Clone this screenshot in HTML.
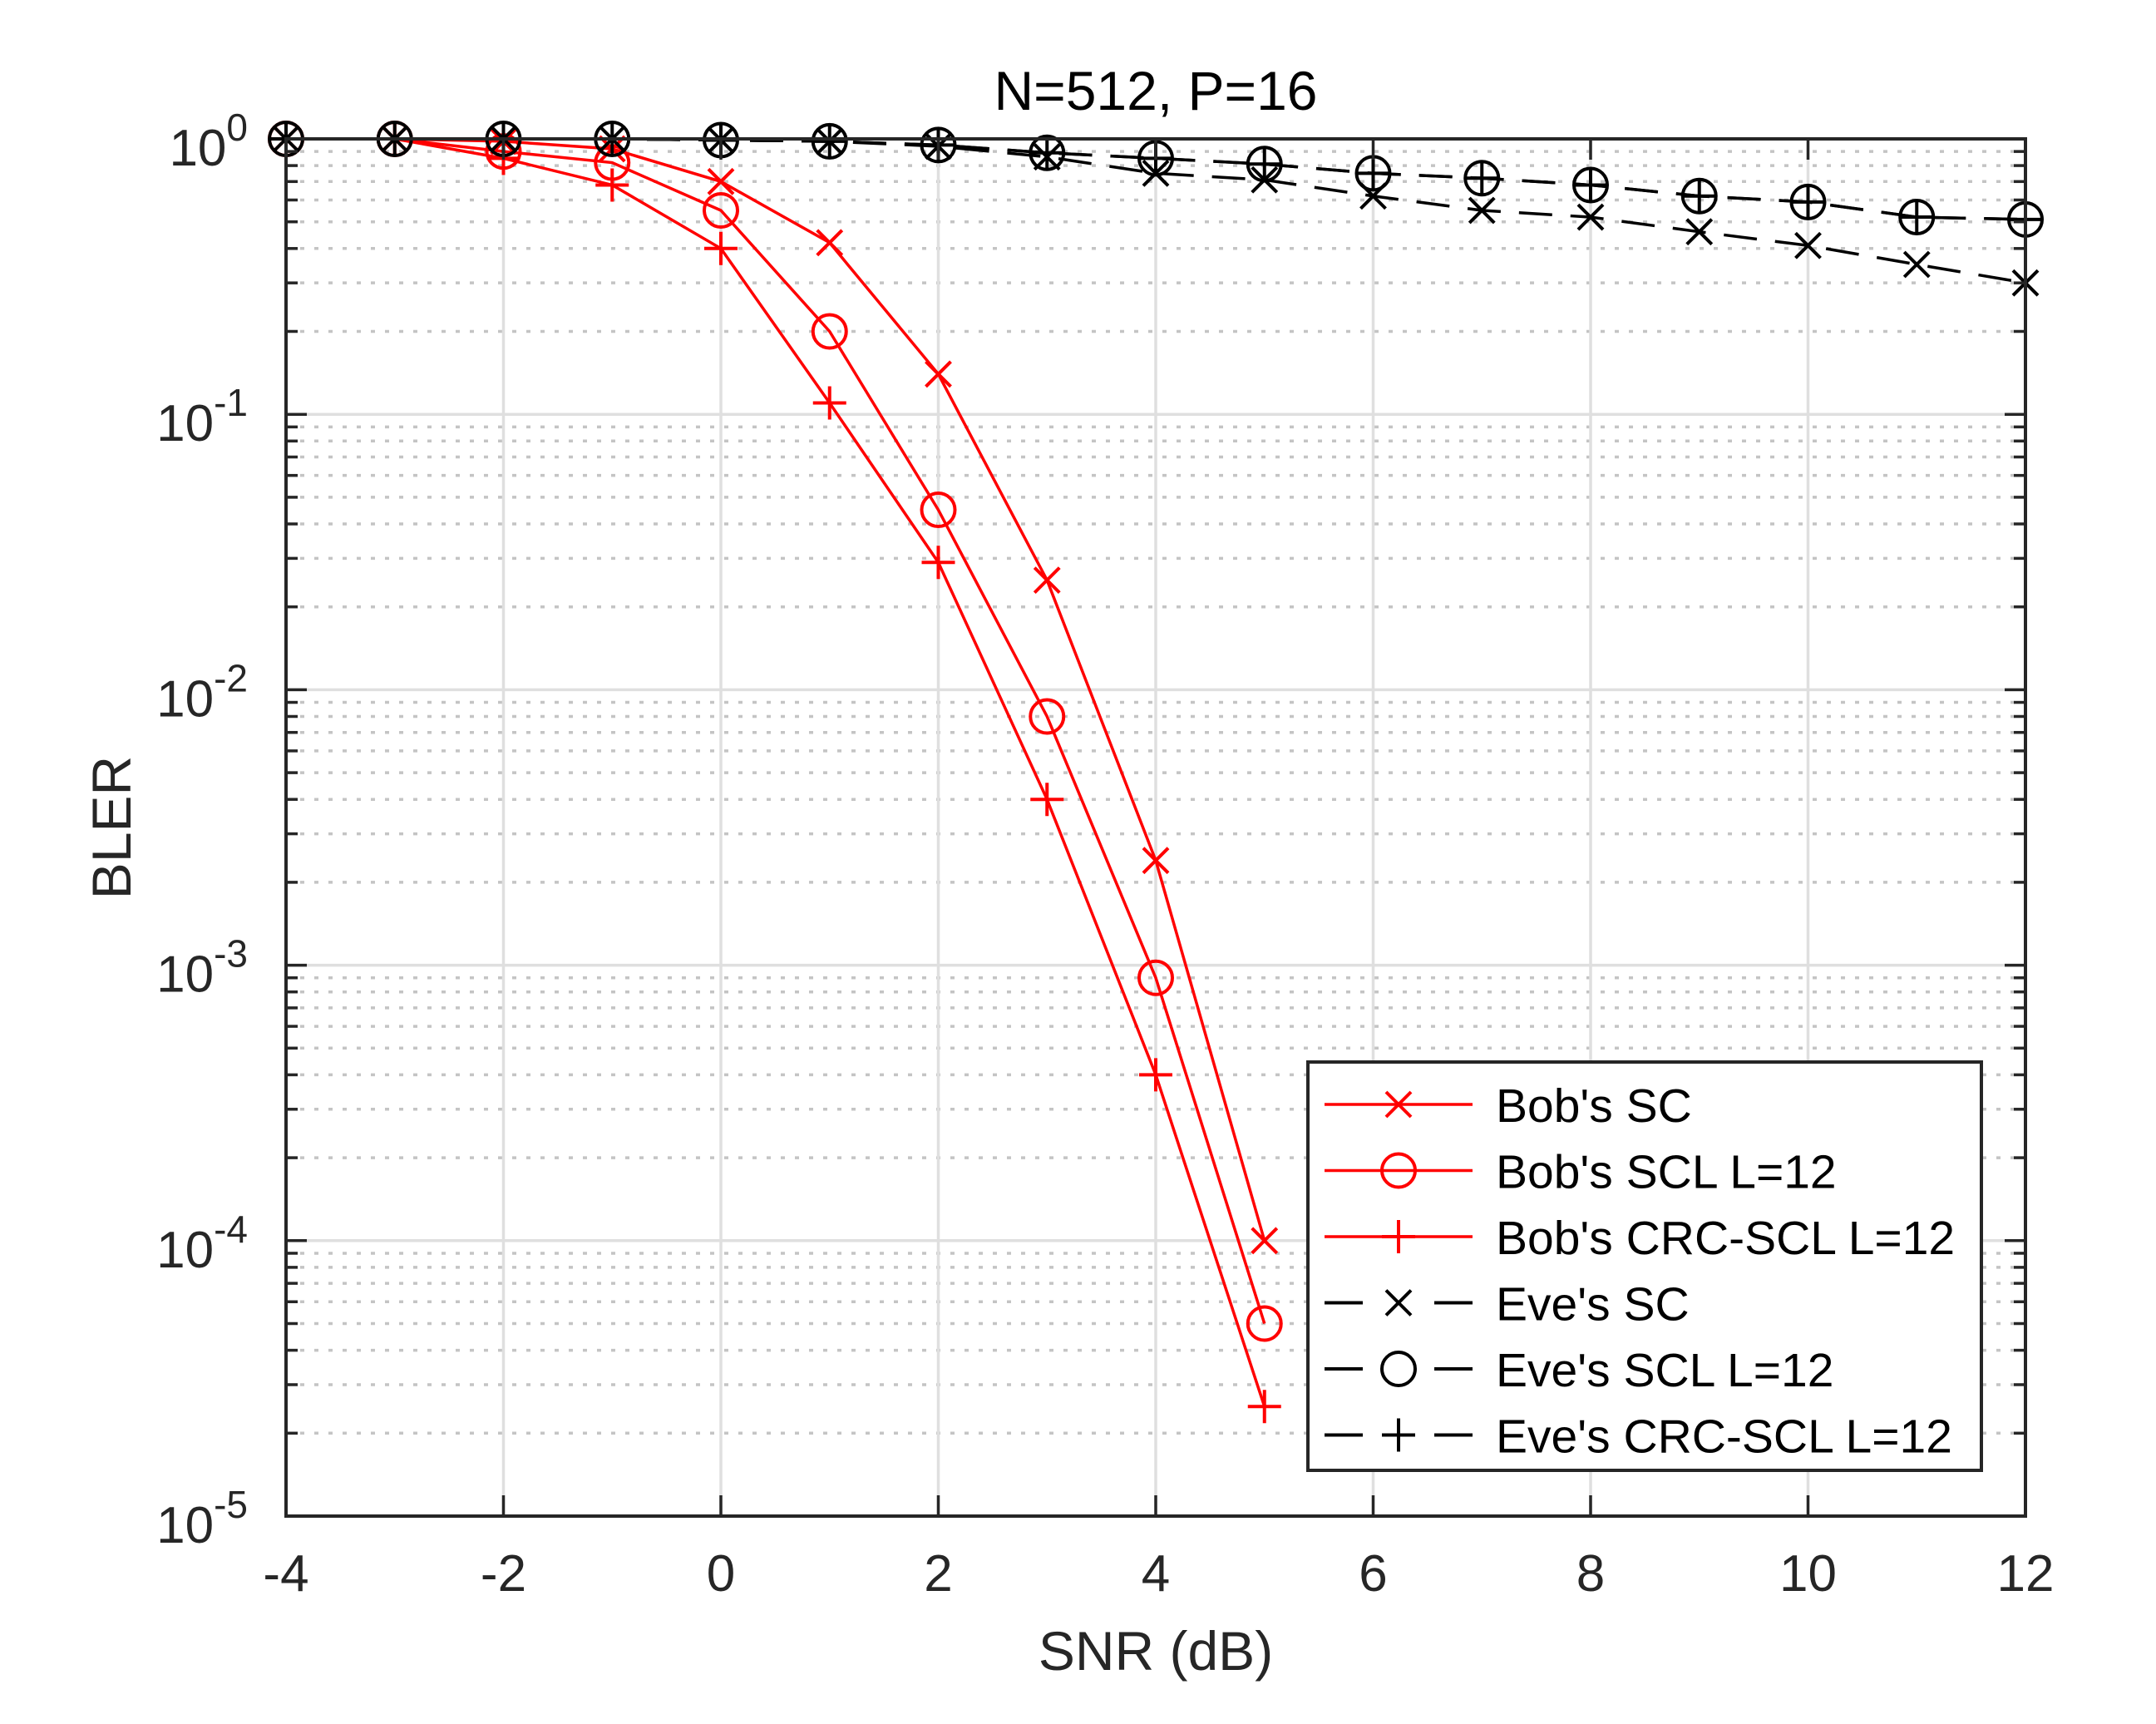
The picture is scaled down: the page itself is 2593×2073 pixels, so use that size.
<!DOCTYPE html>
<html><head><meta charset="utf-8"><style>
html,body{margin:0;padding:0;background:#fff;}
svg{display:block;font-family:"Liberation Sans",sans-serif;}
</style></head><body>
<svg id="chart" width="2593" height="2073" viewBox="0 0 2593 2073" xmlns="http://www.w3.org/2000/svg">
<rect width="2593" height="2073" fill="#fff"/>
<g id="grid"></g>
<g id="series"></g>
<g id="axes"></g>
<text x="1390" y="132" font-size="66" text-anchor="middle" fill="#000">N=512, P=16</text>
<text x="1390" y="2008" font-size="66" text-anchor="middle" fill="#262626">SNR (dB)</text>
<text transform="translate(157,995) rotate(-90)" font-size="66" text-anchor="middle" fill="#262626">BLER</text>
<g id="legend"></g>
</svg>
<script>
const bobSnr = [-4,-3,-2,-1,0,1,2,3,4,5];
const eveSnr = [-4,-3,-2,-1,0,1,2,3,4,5,6,7,8,9,10,11,12];
const bobSC = [1,1,0.98,0.92,0.7,0.42,0.14,0.025,0.0024,0.0001];
const bobSCL = [1,1,0.9,0.82,0.55,0.2,0.045,0.008,0.0009,0.00005];
const bobCRC = [1,1,0.85,0.68,0.4,0.11,0.029,0.004,0.0004,0.000025];
const eveSC = [1,1,1,1,0.99,0.98,0.94,0.86,0.75,0.71,0.62,0.55,0.52,0.46,0.41,0.35,0.30];
const eveSCL = [1,1,1,1,0.99,0.98,0.95,0.89,0.85,0.81,0.75,0.72,0.68,0.62,0.59,0.52,0.51];
const eveCRC = [1,1,1,1,0.99,0.98,0.95,0.89,0.85,0.81,0.75,0.72,0.68,0.62,0.59,0.52,0.51];
const xTicks = [-4,-2,0,2,4,6,8,10,12];
const yExps = [0,-1,-2,-3,-4,-5];

const L=344,R=2436,T=167,B=1823;
const xMin=-4,xMax=12,yMin=-5,yMax=0;
const NS="http://www.w3.org/2000/svg";
function X(v){return L+(v-xMin)/(xMax-xMin)*(R-L);}
function Y(v){return T+(yMax-Math.log10(v))/(yMax-yMin)*(B-T);}
function mk(tag,attrs,parent){const e=document.createElementNS(NS,tag);for(const k in attrs)e.setAttribute(k,attrs[k]);parent.appendChild(e);return e;}
const grid=document.getElementById('grid'),axes=document.getElementById('axes'),ser=document.getElementById('series'),leg=document.getElementById('legend');

for(let e=-5;e<0;e++){for(let m=2;m<=9;m++){const y=Y(m*Math.pow(10,e));
 const g=mk('line',{x1:L,x2:R,y1:y,y2:y,stroke:'#c4c4c4','stroke-width':3.5,'stroke-dasharray':'5 12'},grid);
 
 
 mk('line',{x1:L,x2:L+14,y1:y,y2:y,stroke:'#262626','stroke-width':3.5},axes);
 mk('line',{x1:R,x2:R-14,y1:y,y2:y,stroke:'#262626','stroke-width':3.5},axes);}}
yExps.forEach(e=>{const y=Y(Math.pow(10,e));
 const g=mk('line',{x1:L,x2:R,y1:y,y2:y,stroke:'#dfdfdf','stroke-width':3.5},grid);
 
 
 mk('line',{x1:L,x2:L+25,y1:y,y2:y,stroke:'#262626','stroke-width':3.5},axes);
 mk('line',{x1:R,x2:R-25,y1:y,y2:y,stroke:'#262626','stroke-width':3.5},axes);
 const t=mk('text',{x:L-46,y:y+32,'font-size':62,'text-anchor':'end',fill:'#262626'},axes);
 
 
 t.innerHTML='10<tspan dy="-30" font-size="46">'+e+'</tspan>';});
xTicks.forEach(v=>{const x=X(v);
 const g=mk('line',{x1:x,x2:x,y1:T,y2:B,stroke:'#dfdfdf','stroke-width':3.5},grid);
 
 
 mk('line',{x1:x,x2:x,y1:B,y2:B-25,stroke:'#262626','stroke-width':3.5},axes);
 mk('line',{x1:x,x2:x,y1:T,y2:T+25,stroke:'#262626','stroke-width':3.5},axes);
 const t=mk('text',{x:x,y:B+90,'font-size':62,'text-anchor':'middle',fill:'#262626'},axes);
 
 
 t.textContent=String(v);});
const box=mk('rect',{x:L,y:T,width:R-L,height:B-T,fill:'none',stroke:'#262626','stroke-width':4},axes);



function marker(type,x,y,col,parent){
 const s=20,sw=4;
 if(type==='x'){mk('path',{d:`M${x-s*0.75} ${y-s*0.75}L${x+s*0.75} ${y+s*0.75}M${x-s*0.75} ${y+s*0.75}L${x+s*0.75} ${y-s*0.75}`,stroke:col,'stroke-width':sw,fill:'none'},parent);}
 if(type==='o'){mk('circle',{cx:x,cy:y,r:s,stroke:col,'stroke-width':sw,fill:'none'},parent);}
 if(type==='+'){mk('path',{d:`M${x-s} ${y}L${x+s} ${y}M${x} ${y-s}L${x} ${y+s}`,stroke:col,'stroke-width':sw,fill:'none'},parent);}
}
const seriesDefs=[
 {name:'bob-sc',label:"Bob's SC",xs:bobSnr,ys:bobSC,col:'#ff0000',m:'x',dash:null},
 {name:'bob-scl',label:"Bob's SCL L=12",xs:bobSnr,ys:bobSCL,col:'#ff0000',m:'o',dash:null},
 {name:'bob-crc-scl',label:"Bob's CRC-SCL L=12",xs:bobSnr,ys:bobCRC,col:'#ff0000',m:'+',dash:null},
 {name:'eve-sc',label:"Eve's SC",xs:eveSnr,ys:eveSC,col:'#000000',m:'x',dash:'40 22'},
 {name:'eve-scl',label:"Eve's SCL L=12",xs:eveSnr,ys:eveSCL,col:'#000000',m:'o',dash:'40 22'},
 {name:'eve-crc-scl',label:"Eve's CRC-SCL L=12",xs:eveSnr,ys:eveCRC,col:'#000000',m:'+',dash:'40 22'}
];
seriesDefs.forEach(sd=>{
 const g=mk('g',{},ser);
 
 
 const pts=sd.xs.map((v,i)=>X(v)+','+Y(sd.ys[i])).join(' ');
 const a={points:pts,fill:'none',stroke:sd.col,'stroke-width':3.5};
 if(sd.dash)a['stroke-dasharray']=sd.dash;
 mk('polyline',a,g);
 sd.xs.forEach((v,i)=>marker(sd.m,X(v),Y(sd.ys[i]),sd.col,g));
});
const lx=1573,ly=1277,lw=810,lh=491;
const lb=mk('rect',{x:lx,y:ly,width:lw,height:lh,fill:'#fff',stroke:'#262626','stroke-width':4},leg);


seriesDefs.forEach((sd,i)=>{
 const y=ly+51+i*79.5;
 const g=mk('g',{},leg);
 
 
 if(sd.dash){
  mk('line',{x1:lx+20,x2:lx+66,y1:y,y2:y,stroke:sd.col,'stroke-width':4},g);
  mk('line',{x1:lx+152,x2:lx+198,y1:y,y2:y,stroke:sd.col,'stroke-width':4},g);
 } else {
  mk('line',{x1:lx+20,x2:lx+198,y1:y,y2:y,stroke:sd.col,'stroke-width':3.5},g);
 }
 marker(sd.m,lx+109,y,sd.col,g);
 const t=mk('text',{x:lx+226,y:y+21,'font-size':57,fill:'#000'},g);
 t.textContent=sd.label;
});
</script>
</body></html>
